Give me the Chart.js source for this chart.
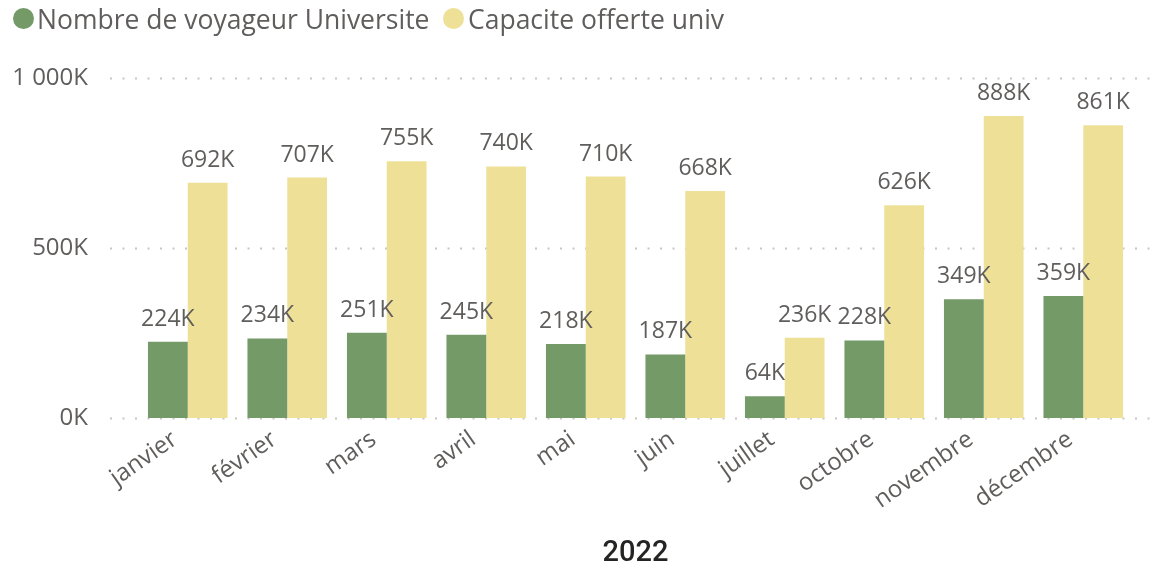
<!DOCTYPE html>
<html>
<head>
<meta charset="utf-8">
<script src="https://cdn.jsdelivr.net/npm/chart.js@4"></script>
<style>
  html, body { margin: 0; padding: 0; background: #fff; }
  #wrap { position: relative; width: 1160px; height: 567px; }
  canvas { position: absolute; left: 0; top: 0; }
  .item { position: absolute; top: 0; height: 38px; line-height: 38px; font-family: "Open Sans", sans-serif; font-size: 26.5px; color: #605E5C; white-space: nowrap; }
  .dot { position: absolute; top: 8px; width: 21px; height: 21px; border-radius: 50%; }
</style>
</head>
<body>
<div id="wrap">
  <canvas id="c" width="1160" height="567"></canvas>
  <div id="legend"></div>
</div>
<script>
const months = ['janvier', 'février', 'mars', 'avril', 'mai', 'juin', 'juillet', 'octobre', 'novembre', 'décembre'];
const voyageurs = [224000, 234000, 251000, 245000, 218000, 187000, 64000, 228000, 349000, 359000];
const capacite = [692000, 707000, 755000, 740000, 710000, 668000, 236000, 626000, 888000, 861000];
const seriesNames = ['Nombre de voyageur Universite', 'Capacite offerte univ'];
const seriesColors = ['#739A67', '#EEE097'];
const yTicks = [0, 500000, 1000000];
const axisTitle = '2022';

const FONT = '"Open Sans", sans-serif';
const TEXT = '#605E5C';

function fmtK(v) {
  const k = Math.round(v / 1000);
  return String(k).replace(/\B(?=(\d{3})+(?!\d))/g, ' ') + 'K';
}

// legend entries: dot + name
const legendEl = document.getElementById('legend');
const legendX = [[13, 37], [443, 468]];
seriesNames.forEach((name, i) => {
  const dot = document.createElement('span');
  dot.className = 'dot';
  dot.style.left = legendX[i][0] + 'px';
  dot.style.background = seriesColors[i];
  const label = document.createElement('span');
  label.className = 'item';
  label.style.left = legendX[i][1] + 'px';
  label.textContent = name;
  legendEl.appendChild(dot);
  legendEl.appendChild(label);
});

// dotted horizontal gridlines spanning wider than the plot area
const dottedGrid = {
  id: 'dottedGrid',
  beforeDatasetsDraw(chart) {
    const { ctx } = chart;
    const y = chart.scales.y;
    ctx.save();
    ctx.strokeStyle = '#C8C6C4';
    ctx.lineWidth = 2;
    ctx.setLineDash([2, 10.5]);
    yTicks.forEach(v => {
      const py = Math.round(y.getPixelForValue(v)) + 0.5;
      ctx.beginPath();
      ctx.moveTo(110, py);
      ctx.lineTo(1152, py);
      ctx.stroke();
    });
    ctx.restore();
  }
};

// value labels above each bar, and rotated month labels under the axis
const barLabels = {
  id: 'barLabels',
  afterDatasetsDraw(chart) {
    const { ctx } = chart;
    ctx.save();
    ctx.font = '23px ' + FONT;
    ctx.fillStyle = TEXT;
    ctx.textAlign = 'center';
    ctx.textBaseline = 'alphabetic';
    chart.data.datasets.forEach((ds, di) => {
      chart.getDatasetMeta(di).data.forEach((bar, i) => {
        ctx.fillText(fmtK(ds.data[i]), bar.x, bar.y - 16);
      });
    });
    ctx.restore();

    const x = chart.scales.x;
    const base = chart.chartArea.bottom;
    ctx.save();
    ctx.font = '24px ' + FONT;
    ctx.fillStyle = TEXT;
    ctx.textAlign = 'right';
    ctx.textBaseline = 'middle';
    chart.data.labels.forEach((lab, i) => {
      const px = x.getPixelForTick(i);
      ctx.save();
      ctx.translate(px - 13, base + 19);
      ctx.rotate(-35 * Math.PI / 180);
      ctx.fillText(lab, 0, 0);
      ctx.restore();
    });
    ctx.restore();
  }
};

new Chart(document.getElementById('c'), {
  type: 'bar',
  data: {
    labels: months,
    datasets: [
      { label: seriesNames[0], data: voyageurs, backgroundColor: seriesColors[0] },
      { label: seriesNames[1], data: capacite, backgroundColor: seriesColors[1] }
    ]
  },
  options: {
    responsive: false,
    animation: false,
    devicePixelRatio: 1,
    layout: { padding: { left: 0, right: 27, top: 78, bottom: 0 } },
    datasets: { bar: { categoryPercentage: 0.8, barPercentage: 1.0 } },
    plugins: { legend: { display: false }, tooltip: { enabled: false } },
    scales: {
      x: {
        grid: { display: false, drawTicks: false },
        border: { display: false },
        ticks: { display: false },
        title: {
          display: true, text: axisTitle, color: '#252423',
          font: { family: 'Roboto, sans-serif', size: 29, weight: '500', lineHeight: 0.9 },
          padding: { top: 0, bottom: 0 }
        },
        afterFit(s) { s.height = 149; }
      },
      y: {
        min: 0, max: 1000000,
        afterBuildTicks(s) { s.ticks = yTicks.map(v => ({ value: v })); },
        grid: { display: false, drawTicks: false },
        border: { display: false },
        ticks: {
          color: TEXT, font: { family: FONT, size: 24 }, padding: 50,
          callback: v => fmtK(v)
        },
        afterFit(s) { s.width = 138; }
      }
    }
  },
  plugins: [dottedGrid, barLabels]
});
</script>
</body>
</html>
